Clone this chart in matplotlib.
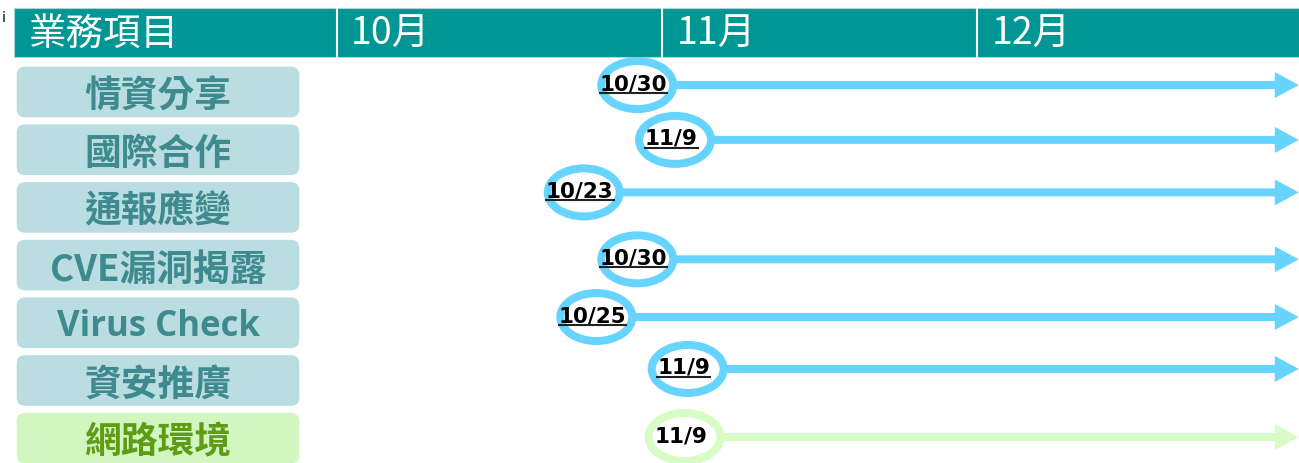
import matplotlib
matplotlib.use("Agg")
import matplotlib.pyplot as plt
from matplotlib.patches import Rectangle, Ellipse, FancyBboxPatch, FancyArrow
from matplotlib.lines import Line2D

plt.rcParams['font.family'] = ['Noto Sans CJK TC', 'DejaVu Sans']

# ---- data ----
header_labels = ["業務項目", "10月", "11月", "12月"]
month_starts = [0, 31, 61]          # day offsets from Oct 1
axis_end = 91.6
items = ["情資分享", "國際合作", "通報應變", "CVE漏洞揭露", "Virus Check", "資安推廣", "網路環境"]
start_labels = ["10/30", "11/9", "10/23", "10/30", "10/25", "11/9", "11/9"]
marker_pos = [28.6, 32.2, 23.5, 28.6, 24.7, 33.4, 33.1]   # visual position (days)
arrow_row = [-0.12, 0.83, 1.74, 2.90, 3.90, 4.80, 5.98]
is_green = [False, False, False, False, False, False, True]
underlined = [True, True, True, True, True, True, False]

# ---- layout ----
W, H, DPI = 1299, 463, 100
PXD = 10.5      # pixels per day
X0 = 337        # pixel of day 0
ROWPX = 57.7
Y0 = 92

fig = plt.figure(figsize=(W / DPI, H / DPI), dpi=DPI)
ax = fig.add_axes([0, 0, 1, 1])
ax.set_xlim(-X0 / PXD, (W - X0) / PXD)
ax.set_ylim((H - Y0) / ROWPX, -Y0 / ROWPX)
ax.axis('off')

def dx(px):
    return px / PXD

def dy(px):
    return px / ROWPX

teal = "#009694"
box_blue = "#B9DDE1"
text_blue = "#3E8A8F"
box_green = "#D2F6C0"
text_green = "#5E9C16"
arrow_blue = "#66D4FF"
arrow_green = "#D7FCC6"

# header
hx0 = -X0 / PXD + dx(14)
hy0 = dy(8 - Y0)
hy1 = dy(57 - Y0)
ax.add_patch(Rectangle((hx0, hy0), axis_end - hx0, hy1 - hy0, facecolor=teal,
                       edgecolor="#A8D8D8", lw=0.8, zorder=1))
for m in month_starts:
    ax.plot([m, m], [hy0, hy1], color="white", lw=1.5, zorder=2)
hdr_x = [hx0 + dx(15)] + [m + dx(14) for m in month_starts]
for lab, x in zip(header_labels, hdr_x):
    ax.text(x, (hy0 + hy1) / 2 + dy(2), lab, color="white", fontsize=27, ha="left",
            va="center", fontweight="medium", zorder=3)

ax.text(-X0 / PXD + dx(2), dy(18 - Y0), "i", fontsize=10, color="black", va="center")

# item boxes
bx0 = -X0 / PXD + dx(16)
bx1 = -X0 / PXD + dx(300)
bh = dy(52)
asp = PXD / ROWPX
for i, name in enumerate(items):
    fc = box_green if is_green[i] else box_blue
    tc = text_green if is_green[i] else text_blue
    ax.add_patch(FancyBboxPatch((bx0, i - bh / 2), bx1 - bx0, bh,
                                boxstyle="round,pad=0,rounding_size=%f" % dx(9),
                                mutation_aspect=asp, facecolor=fc,
                                edgecolor="white", lw=1, zorder=1))
    if name.isascii():
        ax.text((bx0 + bx1) / 2, i + dy(4), name, color=tc, fontsize=25,
                fontweight="bold", ha="center", va="center", zorder=3,
                family=["Open Sans", "DejaVu Sans"])
    else:
        ax.text((bx0 + bx1) / 2, i + dy(5), name, color=tc, fontsize=26.5,
                fontweight="bold", ha="center", va="center", zorder=3)

# arrows and start markers
ew, eh = dx(72), dy(48)
tip = axis_end
head_len = dx(24)
texts = []
for i in range(len(items)):
    col = arrow_green if is_green[i] else arrow_blue
    y = arrow_row[i]
    xc = marker_pos[i]
    xs = xc + ew / 2
    ax.add_patch(FancyArrow(xs, y, tip - xs, 0, width=dy(8), head_width=dy(26),
                            head_length=head_len, length_includes_head=True,
                            facecolor=col, edgecolor="none", zorder=2))
    ax.add_patch(Ellipse((xc, y), ew, eh, facecolor="white", edgecolor=col,
                         lw=8 * 72 / DPI, zorder=3))
    t = ax.text(xc - dx(4), y - dy(1), start_labels[i], fontsize=15.5, fontweight="bold",
                color="black", ha="center", va="center", zorder=4,
                family="DejaVu Sans")
    texts.append((t, underlined[i]))

fig.canvas.draw()
r = fig.canvas.get_renderer()
for t, u in texts:
    if not u:
        continue
    bb = t.get_window_extent(r)
    yb = bb.y0 + 1
    fig.add_artist(Line2D([bb.x0 / W, bb.x1 / W], [yb / H, yb / H],
                          transform=fig.transFigure, color="#222222", lw=1.5, zorder=5))

fig.savefig("out.png", dpi=DPI)
